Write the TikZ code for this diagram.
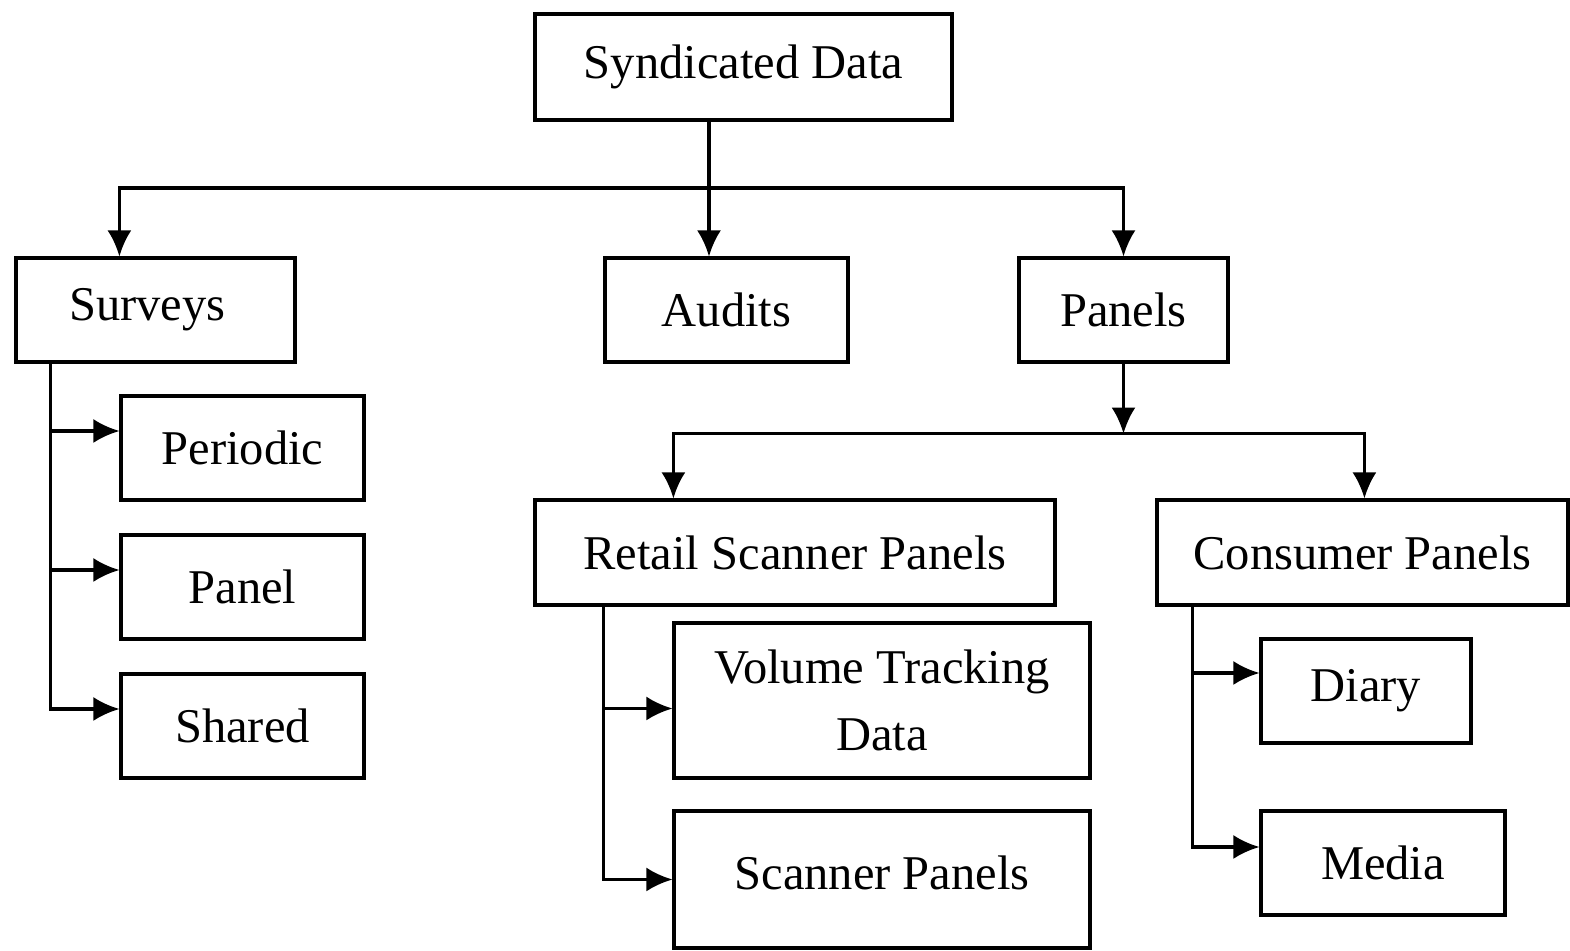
\documentclass[tikz,border=0pt]{standalone}
\usepackage{fontspec}
\setmainfont{Liberation Serif}
\usetikzlibrary{arrows.meta,calc}

\begin{document}
\begin{tikzpicture}[>={Latex[length=2.6mm,width=2.4mm]},
	box/.style={draw,line width=0.9pt,minimum height=1.04cm,inner sep=2pt,align=center,font=\fontsize{13.8}{19}\selectfont},
	link/.style={line width=0.9pt}]

	\useasboundingbox (0,0) rectangle (15.7,-9.51);

	% Draw the top box
	\node[box,minimum width=4.17cm,minimum height=1.06cm] (synd) at (7.435,-0.67) {Syndicated Data};

	% Draw the three kinds of syndicated data
	\node[box,minimum width=2.79cm] (surveys) at (1.555,-3.10) {\hspace*{-0.16cm}Surveys};
	\node[box,minimum width=2.43cm] (audits) at (7.265,-3.10) {Audits};
	\node[box,minimum width=2.09cm] (panels) at (11.235,-3.10) {Panels};

	% Draw the kinds of surveys
	\node[box,minimum width=2.43cm] (periodic) at (2.425,-4.48) {Periodic};
	\node[box,minimum width=2.43cm] (panel) at (2.425,-5.87) {Panel};
	\node[box,minimum width=2.43cm] (shared) at (2.425,-7.26) {Shared};

	% Draw the kinds of panels
	\node[box,minimum width=5.20cm,minimum height=1.05cm] (retail) at (7.95,-5.525) {Retail Scanner Panels};
	\node[box,minimum width=4.11cm,minimum height=1.05cm] (consumer) at (13.625,-5.525) {Consumer Panels};

	% Draw the retail scanner boxes
	\node[box,minimum width=4.16cm,minimum height=1.55cm] (volume) at (8.82,-7.005) {\raisebox{-0.06cm}{Volume Tracking}\\\raisebox{-0.06cm}{Data}};
	\node[box,minimum width=4.16cm,minimum height=1.37cm] (scanner) at (8.82,-8.795) {\raisebox{0.14cm}{Scanner Panels}};

	% Draw the consumer panel boxes
	\node[box,minimum width=2.10cm] (diary) at (13.66,-6.91) {Diary};
	\node[box,minimum width=2.44cm] (media) at (13.83,-8.63) {Media};

	% Draw the split under the top box
	\coordinate (split) at (7.09,-1.88);
	\draw[link] (synd.south -| split) -- (split);
	\draw[link,->] (split) -- (audits.north -| split);
	\draw[link,->] (split) -| ($(surveys.north west)+(1.05,0)$);
	\draw[link,->] (split) -| (panels.north);

	% Draw the split under panels
	\coordinate (psplit) at ($(panels.south)+(0,-0.70)$);
	\draw[link,->] (panels.south) -- (psplit);
	\draw[link,->] (psplit) -| ($(retail.north west)+(1.40,0)$);
	\draw[link,->] (psplit) -| ($(consumer.north west)+(2.09,0)$);

	% Draw the surveys branch
	\coordinate (sstem) at ($(surveys.south west)+(0.36,0)$);
	\draw[link,->] (sstem) |- ($(periodic.west)+(0,0.17)$);
	\draw[link,->] (sstem) |- ($(panel.west)+(0,0.17)$);
	\draw[link,->] (sstem) |- ($(shared.west)+(0,0.17)$);

	% Draw the retail scanner branch
	\coordinate (rstem) at ($(retail.south west)+(0.70,0)$);
	\draw[link,->] (rstem) |- ($(volume.west)+(0,-0.08)$);
	\draw[link,->] (rstem) |- (scanner.west);

	% Draw the consumer branch
	\coordinate (cstem) at ($(consumer.south west)+(0.37,0)$);
	\draw[link,->] (cstem) |- ($(diary.west)+(0,0.18)$);
	\draw[link,->] (cstem) |- ($(media.west)+(0,0.16)$);

\end{tikzpicture}
\end{document}
